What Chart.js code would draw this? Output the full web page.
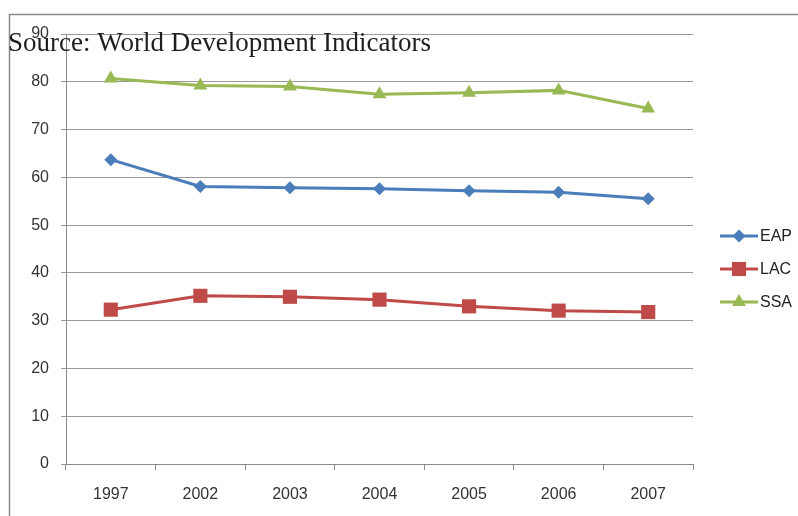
<!DOCTYPE html>
<html>
<head>
<meta charset="utf-8">
<script src="https://cdn.jsdelivr.net/npm/chart.js@4.4.1/dist/chart.umd.min.js"></script>
<style>
  html, body { margin: 0; padding: 0; background: #ffffff; }
  #wrap { width: 798px; height: 516px; position: relative; }
</style>
</head>
<body>
<div id="wrap"><canvas id="c" width="798" height="516"></canvas></div>
<script>
// Years on the horizontal axis
const years = ['1997', '2002', '2003', '2004', '2005', '2006', '2007'];
// Regional series
const eap = [63.7, 58.1, 57.8, 57.6, 57.2, 56.9, 55.5];
const lac = [32.3, 35.2, 35.0, 34.4, 33.0, 32.1, 31.8];
const ssa = [80.7, 79.2, 79.0, 77.4, 77.7, 78.2, 74.4];
const seriesNames = ['EAP', 'LAC', 'SSA'];
const sourceNote = 'Source: World Development Indicators';

const colors = { EAP: '#4a7ebb', LAC: '#be4b48', SSA: '#98b954' };
const shapes = { EAP: 'rectRot', LAC: 'rect', SSA: 'triangle' };
const radii = { EAP: 6.5, LAC: 10, SSA: 8 };
const tickFont = { family: '"Liberation Sans", Arial, sans-serif', size: 16 };

function ds(name, values) {
  return {
    label: name,
    data: values,
    borderColor: colors[name],
    backgroundColor: colors[name],
    borderWidth: 3,
    pointStyle: shapes[name],
    pointRadius: radii[name],
    pointHoverRadius: radii[name],
    pointBorderWidth: 0,
    tension: 0
  };
}

// Outer frame lines (top and left edges)
const framePlugin = {
  id: 'frame',
  beforeDraw(chart) {
    const ctx = chart.ctx;
    ctx.save();
    ctx.strokeStyle = '#8a8a8a';
    ctx.lineWidth = 1.5;
    ctx.beginPath();
    ctx.moveTo(9.5, 516);
    ctx.lineTo(9.5, 14.5);
    ctx.lineTo(798, 14.5);
    ctx.stroke();
    ctx.restore();
  }
};

// Legend drawn at right: short line with marker, then label
const sideLegend = {
  id: 'sideLegend',
  afterDraw(chart) {
    const ctx = chart.ctx;
    const x0 = 720, x1 = 758, ys = [236, 269, 302];
    chart.data.datasets.forEach((d, i) => {
      const y = ys[i];
      ctx.save();
      ctx.strokeStyle = d.borderColor;
      ctx.lineWidth = 3;
      ctx.beginPath();
      ctx.moveTo(x0, y);
      ctx.lineTo(x1, y);
      ctx.stroke();
      ctx.fillStyle = d.backgroundColor;
      Chart.helpers.drawPoint(ctx, {
        pointStyle: d.pointStyle,
        radius: d.pointRadius,
        rotation: 0,
        borderWidth: 0
      }, (x0 + x1) / 2, y);
      ctx.fillStyle = '#222';
      ctx.font = '16px "Liberation Sans", Arial, sans-serif';
      ctx.textBaseline = 'middle';
      ctx.fillText(d.label, x1 + 2, y + 1);
      ctx.restore();
    });
  }
};

// Source note overlaid at top-left
const notePlugin = {
  id: 'note',
  afterDraw(chart) {
    const ctx = chart.ctx;
    ctx.save();
    ctx.fillStyle = '#1e1e1e';
    ctx.font = '27px "Liberation Serif", "Times New Roman", serif';
    ctx.textBaseline = 'alphabetic';
    ctx.fillText(sourceNote, 8, 51);
    ctx.restore();
  }
};

new Chart(document.getElementById('c'), {
  type: 'line',
  data: {
    labels: years,
    datasets: [ds(seriesNames[0], eap), ds(seriesNames[1], lac), ds(seriesNames[2], ssa)]
  },
  options: {
    responsive: false,
    animation: false,
    layout: { padding: { left: 0, top: 34, right: 105, bottom: 0 } },
    plugins: { legend: { display: false }, tooltip: { enabled: false } },
    scales: {
      x: {
        offset: true,
        afterFit(s) { s.height = 52; },
        grid: { display: true, drawOnChartArea: false, drawTicks: true, tickLength: 6, offset: true, color: '#8a8a8a' },
        border: { display: true, color: '#8a8a8a', width: 1 },
        ticks: { font: tickFont, color: '#333', padding: 15, maxRotation: 0 }
      },
      y: {
        min: 0, max: 90,
        afterFit(s) { s.width = 66; },
        ticks: { stepSize: 10, font: tickFont, color: '#333', padding: 12 },
        grid: { color: '#9a9a9a', drawTicks: true, tickLength: 5 },
        border: { display: true, color: '#8a8a8a', width: 1 }
      }
    }
  },
  plugins: [framePlugin, sideLegend, notePlugin]
});
</script>
</body>
</html>
